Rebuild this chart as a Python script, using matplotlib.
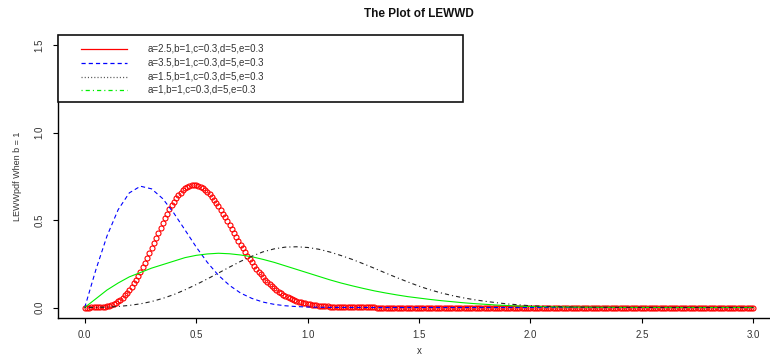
import numpy as np
import matplotlib
matplotlib.use("Agg")
import matplotlib.pyplot as plt
from matplotlib.lines import Line2D
from matplotlib.patches import Rectangle

plt.rcParams['font.family'] = ['Liberation Sans', 'DejaVu Sans']
plt.rcParams['lines.scale_dashes'] = False

# ---------------- data ----------------
# red circles, x = 0.00 .. 3.00 step 0.01
red_x = np.round(np.arange(0, 3.001, 0.01), 2)
red_y = [0.0, 0.0, 0.0, 0.0001, 0.0002, 0.0005, 0.0010, 0.0019, 0.0032, 0.0051,
         0.0077, 0.0112, 0.0156, 0.0212, 0.0280, 0.0361, 0.0457, 0.0568, 0.0695, 0.0840,
         0.1001, 0.1178, 0.1372, 0.1582, 0.1807, 0.2046, 0.2297, 0.2561, 0.2834, 0.3113,
         0.3399, 0.3686, 0.3977, 0.4266, 0.4548, 0.4829, 0.5097, 0.5353, 0.5604, 0.5833,
         0.6047, 0.6238, 0.6415, 0.6564, 0.6697, 0.6805, 0.6887, 0.6949, 0.6984, 0.6998,
         0.6984, 0.6949, 0.6894, 0.6811, 0.6717, 0.6597, 0.6460, 0.6313, 0.6139, 0.5969,
         0.5775, 0.5571, 0.5369, 0.5153, 0.4931, 0.4710, 0.4484, 0.4261, 0.4033, 0.3814,
         0.3595, 0.3379, 0.3169, 0.2964, 0.2769, 0.2577, 0.2393, 0.2216, 0.2049, 0.1890,
         0.1738, 0.1595, 0.1460, 0.1334, 0.1216, 0.1106, 0.1003, 0.0908, 0.0821, 0.0740,
         0.0665, 0.0597, 0.0535, 0.0477, 0.0426, 0.0379, 0.0336, 0.0298, 0.0263, 0.0232,
         0.0204, 0.0180, 0.0157, 0.0138, 0.0120, 0.0105, 0.0091, 0.0079, 0.0068, 0.0059,
         0.0051, 0.0044, 0.0038, 0.0033, 0.0028, 0.0024, 0.0020, 0.0017, 0.0014, 0.0012,
         0.0010, 0.0008, 0.0007, 0.0006, 0.0005, 0.0004, 0.0003, 0.0003, 0.0002, 0.0002,
         0.0001] + [0.0] * 170

# the three lines, x = 0.00 .. 3.00 step 0.05
line_x = np.round(np.arange(0, 3.001, 0.05), 2)
blue_y = [0.0, 0.216, 0.409, 0.559, 0.655, 0.693, 0.678, 0.622, 0.539, 0.443,
          0.346, 0.258, 0.184, 0.126, 0.082, 0.052, 0.031, 0.018, 0.0099, 0.0053,
          0.0027, 0.0014, 0.0006, 0.0003, 0.0001] + [0.0] * 36
green_y = [0.0, 0.05, 0.10, 0.14, 0.175, 0.20, 0.225, 0.245, 0.265, 0.285,
           0.298, 0.306, 0.31, 0.307, 0.30, 0.29, 0.275, 0.258, 0.238, 0.218,
           0.198, 0.178, 0.158, 0.140, 0.124, 0.109, 0.095, 0.083, 0.072, 0.062,
           0.054, 0.046, 0.039, 0.033, 0.027, 0.022, 0.018, 0.014, 0.011, 0.008,
           0.006, 0.005, 0.004, 0.003, 0.002, 0.0015, 0.001, 0.0008, 0.0005, 0.0004,
           0.0003, 0.0002, 0.0001] + [0.0] * 8
black_y = [0.0, 0.0005, 0.002, 0.006, 0.012, 0.021, 0.034, 0.052, 0.074, 0.101,
           0.131, 0.163, 0.197, 0.231, 0.264, 0.293, 0.318, 0.335, 0.345, 0.347,
           0.343, 0.333, 0.317, 0.297, 0.275, 0.250, 0.224, 0.197, 0.171, 0.146,
           0.122, 0.101, 0.083, 0.068, 0.055, 0.044, 0.035, 0.027, 0.020, 0.015,
           0.010, 0.007, 0.005, 0.0035, 0.0024, 0.0016, 0.001, 0.0007, 0.0004, 0.0003,
           0.0002, 0.0001] + [0.0] * 9

legend_labels = ["a=2.5,b=1,c=0.3,d=5,e=0.3",
                 "a=3.5,b=1,c=0.3,d=5,e=0.3",
                 "a=1.5,b=1,c=0.3,d=5,e=0.3",
                 "a=1,b=1,c=0.3,d=5,e=0.3"]
x_ticks = [0.0, 0.5, 1.0, 1.5, 2.0, 2.5, 3.0]
y_ticks = [0.0, 0.5, 1.0, 1.5]

# ---------------- figure ----------------
W, H = 770, 358
fig = plt.figure(figsize=(W / 100, H / 100), dpi=100)
ax = fig.add_axes([58 / W, (H - 318) / H, (780 - 58) / W, (318 - 34.5) / H])

ax.plot(red_x, red_y, linestyle='none', marker='o', markersize=3.6,
        markerfacecolor='none', markeredgecolor='red', markeredgewidth=0.8)
ax.plot(line_x, blue_y, color='blue', lw=0.8, linestyle=(0, (3, 2.2)))
ax.plot(line_x, green_y, color='#00ee00', lw=0.8)
ax.plot(line_x, black_y, color='#222222', lw=0.8, linestyle=(0, (0.8, 2.2, 3, 2.2)))

ax.set_xlim(-0.12, 3.12)
ax.set_ylim(-0.06, 1.56)
ax.set_xticks(x_ticks)
ax.set_yticks(y_ticks)
ax.set_xticklabels([f"{v:.1f}" for v in x_ticks])
ax.set_yticklabels([f"{v:.1f}" for v in y_ticks])
for s in ['top', 'right']:
    ax.spines[s].set_visible(False)
for s in ['left', 'bottom']:
    ax.spines[s].set_linewidth(1.0)
ax.tick_params(direction='out', length=3.6, width=0.8, labelsize=7, labelcolor='#333333')
ax.tick_params(axis='x', pad=5)
ax.tick_params(axis='y', pad=6, labelrotation=90)
for lab in ax.get_yticklabels():
    lab.set_va('center')

# titles
fig.text(419 / W, 1 - 14 / H, "The Plot of LEWWD", ha='center', va='center',
         fontsize=8.5, fontweight='bold', color='#111111')
fig.text(18 / W, 1 - 176 / H, "LEWWpdf When b = 1", ha='center', va='center',
         rotation=90, fontsize=6.5, color='#333333')
fig.text(419 / W, 1 - 351 / H, "x", ha='center', va='center', fontsize=7, color='#333333')

# legend box (drawn in figure pixels)
fig.patches.append(Rectangle((58 / W, 1 - 102 / H), 405 / W, 67 / H, transform=fig.transFigure,
                             fill=True, facecolor='white', edgecolor='#111111', lw=1.2, zorder=5))
leg_styles = [dict(color='red', linestyle='-'),
              dict(color='blue', linestyle=(0, (3, 2.2))),
              dict(color='#555555', linestyle=(0, (0.8, 1.5))),
              dict(color='#00ee00', linestyle=(0, (0.8, 2.2, 3, 2.2)))]
rows = [48.5, 62.5, 76.5, 89.5]
for y, st, lab in zip(rows, leg_styles, legend_labels):
    fig.lines.append(Line2D([81 / W, 127 / W], [1 - y / H, 1 - y / H], transform=fig.transFigure,
                            lw=0.9, zorder=6, **st))
    fig.text(148 / W, 1 - y / H, lab, ha='left', va='center', fontsize=7, color='#333333', zorder=6)

fig.savefig("out.png", dpi=100)
